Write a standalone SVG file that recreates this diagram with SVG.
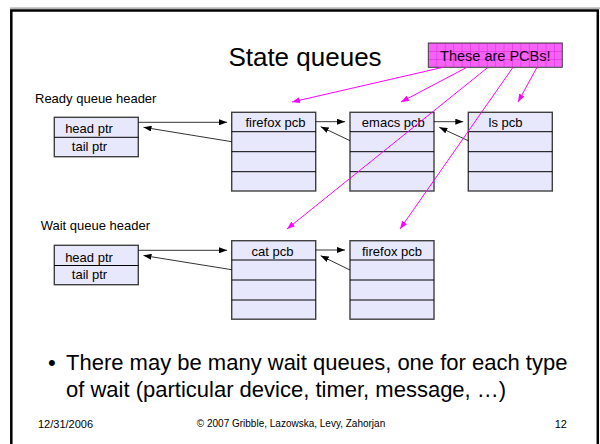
<svg xmlns="http://www.w3.org/2000/svg" width="600" height="444" viewBox="0 0 600 444">
<style>
text{font-family:"Liberation Sans",Arial,sans-serif;fill:#000}
.lbl{font-size:13px}
.pcb{fill:#E8E8FC;stroke:#404040;stroke-width:1.4}
.div{stroke:#000;stroke-width:1}
.ptr{stroke:#000;stroke-width:0.8;fill:none;marker-end:url(#ah)}
.mag{stroke:#FF00FF;stroke-width:1;fill:none;marker-end:url(#mh)}
.mid{text-anchor:middle}
</style>
<defs>
<marker id="ah" viewBox="0 0 8 6" refX="8" refY="3" markerWidth="8" markerHeight="6" markerUnits="userSpaceOnUse" orient="auto">
<path d="M0,0 L8,3 L0,6 Z" fill="#000"/>
</marker>
<marker id="mh" viewBox="0 0 8 6" refX="8" refY="3" markerWidth="8" markerHeight="6" markerUnits="userSpaceOnUse" orient="auto">
<path d="M0,0 L8,3 L0,6 Z" fill="#FF00FF"/>
</marker>
<pattern id="grid" width="8.4" height="8" patternUnits="userSpaceOnUse" x="428" y="43">
<rect width="8.4" height="8" fill="#F562F5"/>
<path d="M0,0 V8 M0,0 H8.4" stroke="#D414D4" stroke-width="0.8"/>
</pattern>
</defs>
<rect width="600" height="444" fill="#fff"/>
<line x1="10" y1="8.2" x2="600" y2="8.2" stroke="#999" stroke-width="1.2"/>
<rect x="11.3" y="10.5" width="586.5" height="460" fill="none" stroke="#000" stroke-width="2.5"/>

<text x="305" y="66" class="mid" style="font-size:26px">State queues</text>

<g id="pcbs-label">
<rect x="428.3" y="43" width="134" height="24.3" fill="url(#grid)" stroke="#404040" stroke-width="1"/>
<text x="495.3" y="61" class="mid" style="font-size:14.5px;fill:#1a001a">These are PCBs!</text>
</g>

<g id="ready-header">
<text x="35" y="103" class="lbl">Ready queue header</text>
<rect x="54.3" y="117.3" width="84" height="39.4" class="pcb"/>
<line x1="54.3" y1="137.3" x2="138.3" y2="137.3" class="div"/>
<text x="89" y="133" class="lbl mid">head ptr</text>
<text x="89.5" y="151" class="lbl mid">tail ptr</text>
</g>

<g id="ready-firefox">
<rect x="231.7" y="112.3" width="84" height="78.7" class="pcb"/>
<path d="M231.7,131.7 H315.7 M231.7,151.7 H315.7 M231.7,171.7 H315.7" class="div"/>
<text x="275.5" y="127.3" class="lbl mid">firefox pcb</text>
</g>

<g id="ready-emacs">
<rect x="350" y="112.3" width="84" height="78.7" class="pcb"/>
<path d="M350,131.7 H434 M350,151.7 H434 M350,171.7 H434" class="div"/>
<text x="393.3" y="127.3" class="lbl mid">emacs pcb</text>
</g>

<g id="ready-ls">
<rect x="468.3" y="112.3" width="84" height="78.7" class="pcb"/>
<path d="M468.3,131.7 H552.3 M468.3,151.7 H552.3 M468.3,171.7 H552.3" class="div"/>
<text x="505.5" y="127.3" class="lbl mid">ls pcb</text>
</g>

<g id="wait-header">
<text x="40.7" y="230" class="lbl">Wait queue header</text>
<rect x="54.3" y="245.3" width="84" height="39.4" class="pcb"/>
<line x1="54.3" y1="265.5" x2="138.3" y2="265.5" class="div"/>
<text x="89" y="261.5" class="lbl mid">head ptr</text>
<text x="89.5" y="279.3" class="lbl mid">tail ptr</text>
</g>

<g id="wait-cat">
<rect x="231.7" y="240.7" width="84" height="78.5" class="pcb"/>
<path d="M231.7,260 H315.7 M231.7,280 H315.7 M231.7,300 H315.7" class="div"/>
<text x="272.5" y="255.7" class="lbl mid">cat pcb</text>
</g>

<g id="wait-firefox">
<rect x="350" y="240.7" width="84" height="78.5" class="pcb"/>
<path d="M350,260 H434 M350,280 H434 M350,300 H434" class="div"/>
<text x="392" y="255.7" class="lbl mid">firefox pcb</text>
</g>

<g id="connectors">
<line x1="138.3" y1="122.3" x2="227" y2="122.3" class="ptr"/>
<line x1="231.7" y1="141.7" x2="143.5" y2="127.3" class="ptr"/>
<line x1="315.7" y1="121.7" x2="345" y2="121.7" class="ptr"/>
<line x1="350" y1="140.7" x2="320.7" y2="126.7" class="ptr"/>
<line x1="434" y1="121.7" x2="463.3" y2="121.7" class="ptr"/>
<line x1="468.3" y1="140.7" x2="439.3" y2="127.3" class="ptr"/>
<line x1="138.3" y1="250.3" x2="227" y2="250.3" class="ptr"/>
<line x1="231.7" y1="269.7" x2="143.5" y2="255.5" class="ptr"/>
<line x1="315.7" y1="250" x2="345" y2="250" class="ptr"/>
<line x1="350" y1="270" x2="320.7" y2="255.7" class="ptr"/>
<line x1="443" y1="67.3" x2="292" y2="102" class="mag"/>
<line x1="467" y1="67.3" x2="401" y2="102" class="mag"/>
<line x1="488" y1="67.3" x2="287" y2="229" class="mag"/>
<line x1="513" y1="67.3" x2="400" y2="229" class="mag"/>
<line x1="537" y1="67.3" x2="518" y2="102" class="mag"/>
</g>

<text x="48" y="370" style="font-size:22px">•</text>
<text x="66" y="370" style="font-size:22px">There may be many wait queues, one for each type</text>
<text x="66" y="397" style="font-size:22px">of wait (particular device, timer, message, …)</text>

<text x="38" y="428" style="font-size:11px">12/31/2006</text>
<text x="291" y="427" class="mid" style="font-size:10px">© 2007 Gribble, Lazowska, Levy, Zahorjan</text>
<text x="567" y="428" style="font-size:11px;text-anchor:end">12</text>
</svg>
